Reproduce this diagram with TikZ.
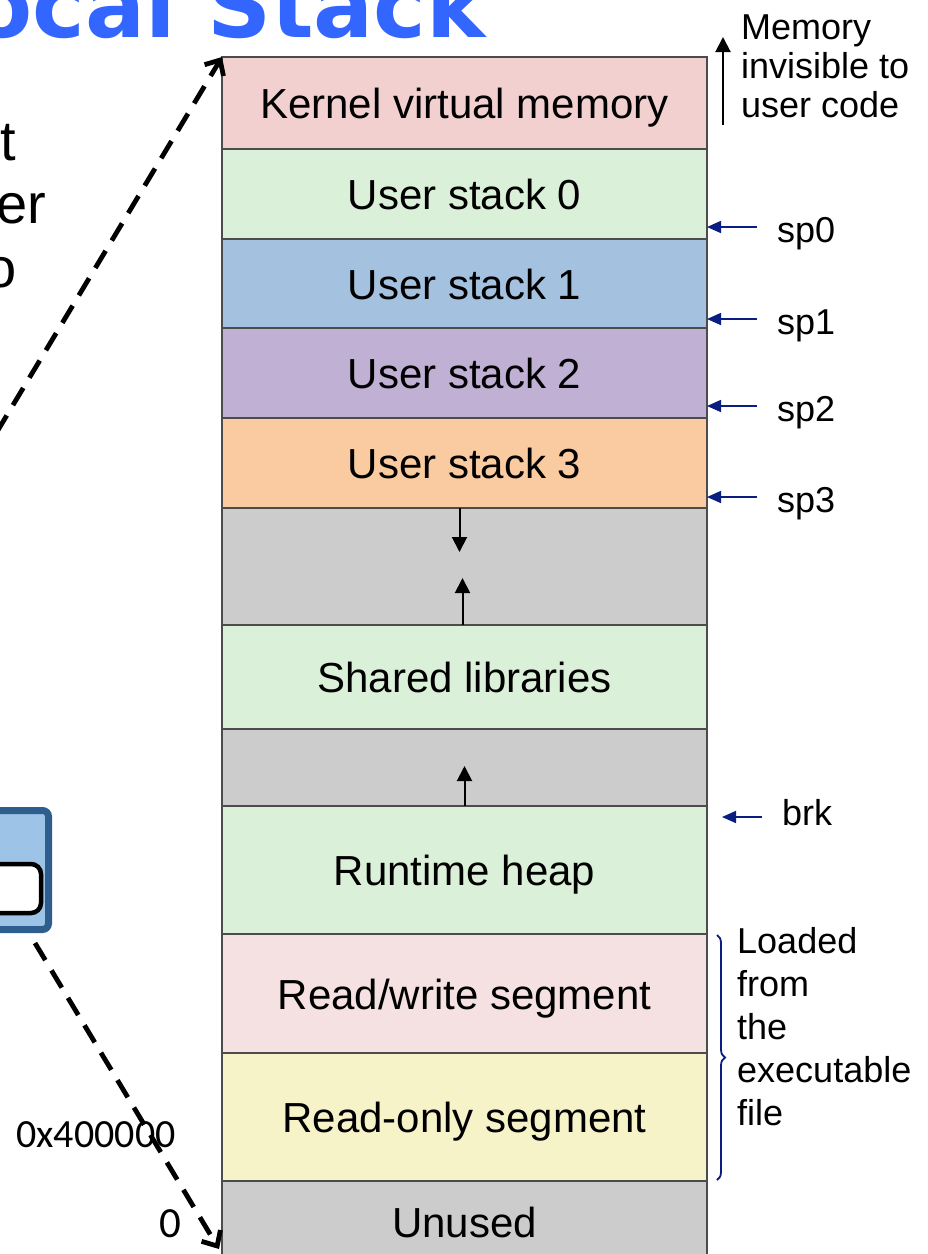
\documentclass[tikz,border=0pt]{standalone}
\usepackage{fontspec}
\setmainfont{Liberation Sans}
\newfontfamily\titlefont{DejaVu Sans}
\newfontfamily\addrfont{Carlito}
\usetikzlibrary{positioning,arrows.meta,decorations.pathreplacing}
\definecolor{kerncol}{HTML}{F3D0D0}
\definecolor{greencol}{HTML}{DBF0D9}
\definecolor{bluecol}{HTML}{A4C2E0}
\definecolor{purplecol}{HTML}{C0B1D4}
\definecolor{peachcol}{HTML}{FACBA0}
\definecolor{graycol}{HTML}{CCCCCC}
\definecolor{rwcol}{HTML}{F5E1E1}
\definecolor{rocol}{HTML}{F7F3C9}
\definecolor{navyarrow}{HTML}{0A1E82}
\definecolor{titleblue}{HTML}{3366FF}
\definecolor{cpufill}{HTML}{9DC3E6}
\definecolor{cpuedge}{HTML}{2E5E8E}

\begin{document}
\begin{tikzpicture}[x=1pt, y=-1pt,
  seg/.style={draw=black!70, line width=1.4pt, minimum width=485pt, inner sep=0pt, outer sep=0pt, text height=31pt, text depth=0pt, font=\fontsize{42}{48}\selectfont},
  growarrow/.style={line width=2pt, -{Triangle[length=15pt,width=15pt]}},
  ptr/.style={navyarrow, line width=1.6pt, -{Triangle[length=14pt,width=12pt]}},
  side/.style={font=\fontsize{36}{39}\selectfont, inner sep=0pt, align=left},
  frag/.style={font=\fontsize{56}{63}\selectfont, inner sep=0pt},
  jump/.style={line width=4.8pt, dash pattern=on 20pt off 12pt, -{Straight Barb[length=12pt,width=22pt]}}]
\useasboundingbox (0,0) rectangle (928,1254);

\node[anchor=base east, inner sep=0pt, text=titleblue, font=\titlefont\bfseries\fontsize{89}{100}\selectfont] (title) at (486,37) {ocal Stack};

\node[frag, anchor=base east] (w1) at (16,160) {t};
\node[frag, anchor=base east] (w2) at (46,223) {er};
\node[frag, anchor=base east] (w3) at (17,287) {o};

% address space
\node[seg, fill=kerncol, minimum height=92pt, anchor=north west] (kern) at (222,57) {Kernel virtual memory};
\node[seg, fill=greencol, minimum height=90pt, below=0pt of kern] (us0) {User stack 0};
\node[seg, fill=bluecol, minimum height=89pt, below=0pt of us0] (us1) {User stack 1};
\node[seg, fill=purplecol, minimum height=90pt, below=0pt of us1] (us2) {User stack 2};
\node[seg, fill=peachcol, minimum height=90pt, below=0pt of us2] (us3) {User stack 3};
\node[seg, fill=graycol, minimum height=117pt, below=0pt of us3] (gap1) {};
\node[seg, fill=greencol, minimum height=104pt, below=0pt of gap1] (shlib) {Shared libraries};
\node[seg, fill=graycol, minimum height=77pt, below=0pt of shlib] (gap2) {};
\node[seg, fill=greencol, minimum height=128pt, below=0pt of gap2] (heap) {Runtime heap};
\node[seg, fill=rwcol, minimum height=119pt, below=0pt of heap] (rw) {Read/write segment};
\node[seg, fill=rocol, minimum height=128pt, below=0pt of rw] (ro) {Read-only segment};
\node[seg, fill=graycol, minimum height=82pt, below=0pt of ro] (unused) {Unused};

\draw[growarrow] ([xshift=-5pt]gap1.north) -- ++(0,44);
\draw[growarrow] ([xshift=-2pt]gap1.south) -- ++(0,-47);
\draw[growarrow] (gap2.south) -- ++(0,-40);

% right side labels
\node[side, anchor=north west] (inv) at ([xshift=34pt,yshift=42pt]kern.north east) {Memory\\invisible to\\user code};
\draw[growarrow] ([xshift=16pt,yshift=24pt]kern.south east) -- ([xshift=16pt,yshift=20pt]kern.north east);

\foreach \i/\d in {0/12,1/9,2/12,3/11} {
  \node[side, anchor=base west] (sp\i) at ([xshift=70pt,yshift=\d pt-15pt]us\i.south east) {sp\i};
  \draw[ptr] ([xshift=-20pt,yshift=15pt]sp\i.base west) -- ([yshift=\d pt]us\i.south east);
}

\node[side, anchor=base west] (brk) at ([xshift=75pt,yshift=-19pt]heap.north east) {brk};
\draw[ptr] ([xshift=-20pt,yshift=8pt]brk.base west) -- ([xshift=15pt,yshift=-11pt]heap.north east);

\draw[navyarrow, line width=1.8pt, decorate, decoration={brace, amplitude=8pt}]
  ([xshift=10pt,yshift=-1pt]rw.north east) -- ([xshift=10pt,yshift=1pt]ro.south east);
\node[side, anchor=north west, font=\fontsize{36}{43}\selectfont] (loaded) at ([xshift=30pt,yshift=7pt]rw.north east) {Loaded\\from\\the\\executable\\file};

% left side
\node[draw=cpuedge, fill=cpufill, line width=7pt, rounded corners=6pt, minimum width=117pt, minimum height=119pt, inner sep=0pt] (cpu) at (-10,870) {};
\node[draw=black, fill=white, line width=4.5pt, rounded corners=10pt, minimum width=122pt, minimum height=49pt, inner sep=0pt] (reg) at (-20,888.5) {};

\node[anchor=base, inner sep=0pt, font=\addrfont\fontsize{40}{44}\selectfont] (addr) at (96,1147) {0x400000};
\node[anchor=base, inner sep=0pt, font=\addrfont\fontsize{43}{46}\selectfont] (zero) at (170,1237) {0};

\coordinate (from1) at (-20,460);
\coordinate (from2) at (35,943);
\coordinate (to2) at (219,1249);
\draw[jump] (from1) -- (kern.north west);
\draw[jump] (from2) -- (to2);

\end{tikzpicture}
\end{document}
